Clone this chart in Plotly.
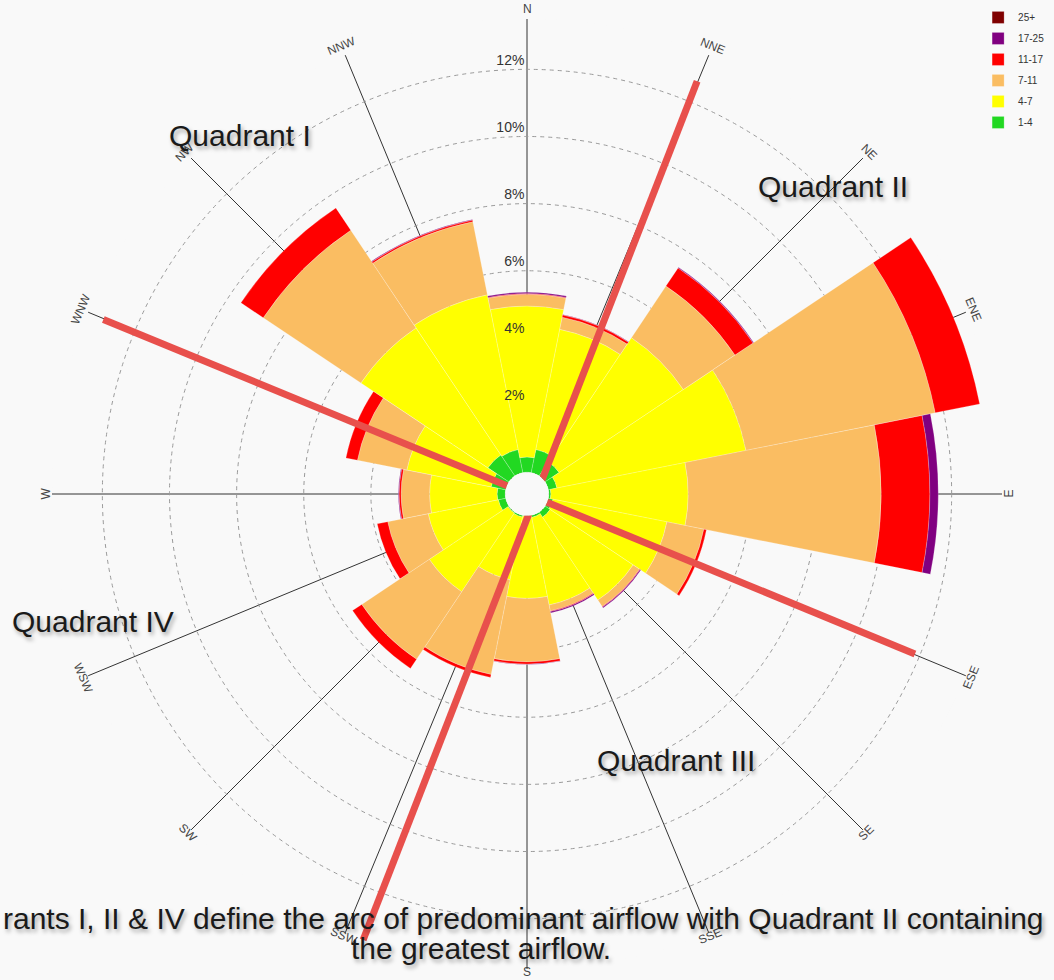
import math
import plotly.graph_objects as go

# ---------------- data ----------------
directions = ["N", "NNE", "NE", "ENE", "E", "ESE", "SE", "SSE",
              "S", "SSW", "SW", "WSW", "W", "WNW", "NW", "NNW"]

speed_bins = ["1-4", "4-7", "7-11", "11-17", "17-25", "25+"]
bin_colors = ["#22D822", "#FFFF00", "#FABD62", "#FF0000", "#800080", "#7F0000"]

# frequency (%) of each speed band per direction
freq_1_4 = [0.45, 0.70, 0.50, 0.26, 0.06, 0.14, 0.18, 0.06,
            0.02, 0.05, 0.03, 0.22, 0.24, 0.44, 0.75, 0.70]
freq_4_7 = [4.50, 3.65, 4.45, 5.74, 4.09, 3.46, 2.97, 2.66,
            2.44, 1.90, 2.82, 2.13, 2.01, 2.56, 4.55, 4.70]
freq_7_11 = [0.35, 0.37, 1.85, 5.75, 5.75, 1.12, 0.23, 0.18,
             1.89, 2.88, 2.42, 1.23, 0.85, 1.50, 3.50, 2.22]
freq_11_17 = [0.02, 0.07, 0.65, 1.35, 1.45, 0.08, 0.02, 0.02,
              0.07, 0.09, 0.33, 0.32, 0.06, 0.35, 0.80, 0.05]
freq_17_25 = [0.04, 0.01, 0.02, 0.00, 0.25, 0.00, 0.03, 0.04,
              0.01, 0.00, 0.00, 0.00, 0.02, 0.00, 0.00, 0.02]
freq_25_up = [0.00, 0.00, 0.00, 0.00, 0.00, 0.00, 0.00, 0.00,
              0.00, 0.00, 0.00, 0.00, 0.00, 0.00, 0.00, 0.00]

radial_ticks = [2, 4, 6, 8, 10, 12]

# hand-drawn red divider lines (direction in degrees, length in %)
divider1_theta = [292.4, 112.4]
divider1_r = [13.0, 11.85]
divider2_theta = [22.4, 200.2]
divider2_r = [12.65, 13.8]

quadrant_labels = ["Quadrant I", "Quadrant II", "Quadrant III", "Quadrant IV"]
# caption as visible in the picture (its first line is cropped at the left edge)
caption_line1 = "rants I, II & IV define the arc of predominant airflow with Quadrant II containing"
caption_line2 = "the greatest airflow."

# ---------------- geometry ----------------
W, H = 1054, 980
CX, CY, R = 527, 494, 475
R_MAX = 13.5
HOLE = 0.046
BG = "#F9F9F9"

step = 360 / len(directions)
angles = [i * step for i in range(len(directions))]

fig = go.Figure()

band_values = [freq_1_4, freq_4_7, freq_7_11, freq_11_17, freq_17_25, freq_25_up]
for i, (name, vals, col) in enumerate(zip(speed_bins, band_values, bin_colors)):
    fig.add_trace(go.Barpolar(
        r=vals, theta=angles, width=step, name=name,
        marker=dict(color=col, line=dict(color="rgba(255,255,255,0.45)", width=0.5)),
        legendgroup=name, legendrank=1000 - i, hoverinfo="name+r",
    ))

for th, rr in [(divider1_theta, divider1_r), (divider2_theta, divider2_r)]:
    fig.add_trace(go.Scatterpolar(
        r=rr, theta=th, mode="lines", showlegend=False, cliponaxis=False,
        line=dict(color="#E8504C", width=7), hoverinfo="skip",
    ))


def px_to_paper(x, y):
    return x / W, 1 - y / H


annotations = []
# compass labels at the outer end of each spoke, rotated with the spoke
for d, a in zip(directions, angles):
    ca = math.cos(math.radians(a))
    rl = R + 6.5 + 3.5 * ca
    x = CX + rl * math.sin(math.radians(a))
    y = CY - rl * ca
    if 90 <= a < 270:
        ang = a - 180
    elif a >= 270:
        ang = a - 360
    else:
        ang = a
    px, py = px_to_paper(x, y)
    annotations.append(dict(x=px, y=py, xref="paper", yref="paper", text=d,
                            showarrow=False, textangle=ang,
                            font=dict(size=12, color="#444", family="Liberation Sans, Arial"),
                            xanchor="center", yanchor="middle"))

shadow = "2px 3px 4px rgba(0,0,0,0.35)"
big_font = dict(size=30, color="#1a1a1a", family="Liberation Sans, Arial", shadow=shadow)
quad_pos = [(240, 135), (833, 187), (676, 760), (93, 621)]
for t, (x, y) in zip(quadrant_labels, quad_pos):
    px, py = px_to_paper(x, y)
    annotations.append(dict(x=px, y=py, xref="paper", yref="paper", text=t,
                            showarrow=False, font=big_font,
                            xanchor="center", yanchor="middle"))

px, py = px_to_paper(1046, 918)
annotations.append(dict(x=px, y=py, xref="paper", yref="paper", text=caption_line1,
                        showarrow=False, font=big_font, xanchor="right", yanchor="middle"))
px, py = px_to_paper(481, 948)
annotations.append(dict(x=px, y=py, xref="paper", yref="paper", text=caption_line2,
                        showarrow=False, font=big_font, xanchor="center", yanchor="middle"))

fig.update_layout(
    width=W, height=H,
    margin=dict(l=0, r=0, t=0, b=0),
    paper_bgcolor=BG, plot_bgcolor=BG,
    font=dict(family="Liberation Sans, Arial", color="#333"),
    polar=dict(
        domain=dict(x=[(CX - R) / W, (CX + R) / W], y=[1 - (CY + R) / H, 1 - (CY - R) / H]),
        hole=HOLE,
        bgcolor=BG,
        barmode="stack",
        radialaxis=dict(
            range=[0, R_MAX], tickvals=radial_ticks,
            ticktext=[f"{v}%<br> " for v in radial_ticks],
            angle=90, tickangle=90, side="counterclockwise",
            showline=False, ticks="",
            gridcolor="#9a9a9a", griddash="4px,4px", gridwidth=1,
            tickfont=dict(size=14, color="#333"), layer="above traces",
        ),
        angularaxis=dict(
            direction="clockwise", rotation=90, tickvals=angles,
            showticklabels=False, ticks="", showline=False,
            gridcolor="#333", gridwidth=1, layer="above traces",
        ),
    ),
    legend=dict(
        x=0.928, y=0.997, xanchor="left", yanchor="top",
        traceorder="grouped", font=dict(size=10, color="#333"),
        bgcolor="rgba(0,0,0,0)", tracegroupgap=2,
    ),
    annotations=annotations,
    showlegend=True,
)

fig.write_html(
    "out.html",
    config={"displayModeBar": False},
    post_script="document.body.style.margin='0';document.body.style.overflow='hidden';",
)
